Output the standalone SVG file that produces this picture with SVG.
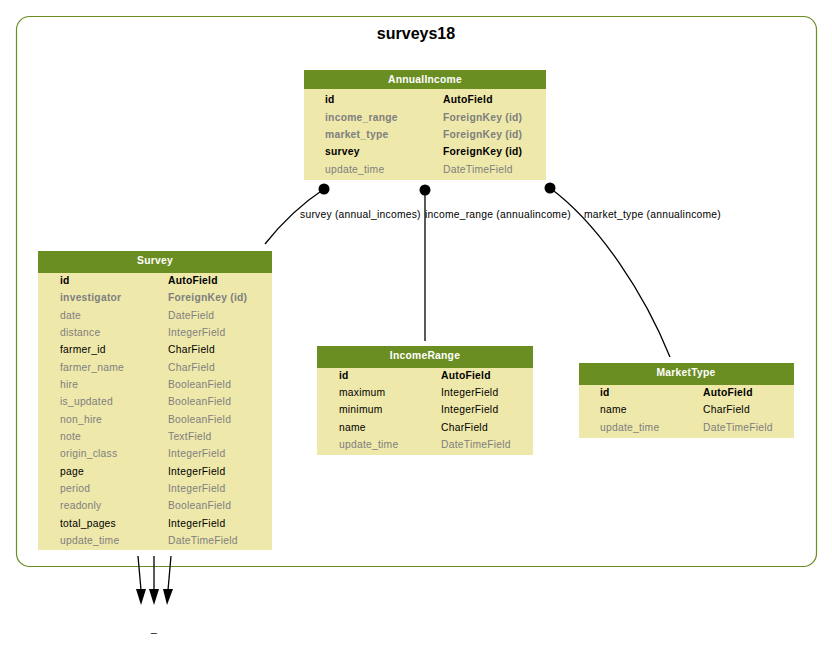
<svg xmlns="http://www.w3.org/2000/svg" width="832" height="659" viewBox="0 0 832 659">
<defs>
<style>
text{font-family:"Liberation Sans",Arial,sans-serif;font-size:10.3px;letter-spacing:0.25px;fill:#000}
.hdr{fill:#6b8e23}
.body{fill:#eee8aa}
.ht{fill:#fff;font-weight:bold;text-anchor:middle}
.b{font-weight:bold}
.g{fill:#7f7f7f}
.edge{fill:none;stroke:#000;stroke-width:1.3}
</style>
</defs>
<rect width="832" height="659" fill="#fff"/>
<g id="cluster">
<rect x="16.5" y="16.5" width="800" height="550" rx="13" fill="none" stroke="#6b8e23" stroke-width="1.2"/>
<text x="416" y="39" text-anchor="middle" style="font-size:16px;font-weight:bold;letter-spacing:0">surveys18</text>
</g>
<g id="edges">
<path class="edge" d="M324,189 C300,205 280,225 265,244"/>
<circle cx="324" cy="189" r="5.5" fill="#000"/>
<text x="300" y="218">survey (annual_incomes)</text>
<path class="edge" d="M425,190 L425,341"/>
<circle cx="425" cy="190" r="5.5" fill="#000"/>
<text x="425" y="218">income_range (annualincome)</text>
<path class="edge" d="M550,188 C600,225 645,295 670,357"/>
<circle cx="550" cy="188" r="5.5" fill="#000"/>
<text x="584" y="218">market_type (annualincome)</text>
<path class="edge" d="M138,556 L141,590"/>
<path d="M136,589 L146,589 L141,605 z"/>
<path class="edge" d="M154,556 L154,590"/>
<path d="M149,589 L159,589 L154,605 z"/>
<path class="edge" d="M171,556 L168,590"/>
<path d="M163,589 L173,589 L167,605 z"/>
<text x="154" y="632" text-anchor="middle">_</text>
</g>
<g id="AnnualIncome">
<rect class="body" x="304" y="70" width="242" height="110"/>
<rect class="hdr" x="304" y="70" width="242" height="19"/>
<text class="ht" x="425" y="83">AnnualIncome</text>
<text class="b" x="325" y="103">id</text><text class="b" x="443" y="103">AutoField</text>
<text class="b g" x="325" y="121">income_range</text><text class="b g" x="443" y="121">ForeignKey (id)</text>
<text class="b g" x="325" y="138">market_type</text><text class="b g" x="443" y="138">ForeignKey (id)</text>
<text class="b" x="325" y="155">survey</text><text class="b" x="443" y="155">ForeignKey (id)</text>
<text class="g" x="325" y="173">update_time</text><text class="g" x="443" y="173">DateTimeField</text>
</g>
<g id="Survey">
<rect class="body" x="38" y="251" width="234" height="299"/>
<rect class="hdr" x="38" y="251" width="234" height="22"/>
<text class="ht" x="155" y="264">Survey</text>
<text class="b" x="60" y="284">id</text><text class="b" x="168" y="284">AutoField</text>
<text class="b g" x="60" y="301">investigator</text><text class="b g" x="168" y="301">ForeignKey (id)</text>
<text class="g" x="60" y="319">date</text><text class="g" x="168" y="319">DateField</text>
<text class="g" x="60" y="336">distance</text><text class="g" x="168" y="336">IntegerField</text>
<text x="60" y="353">farmer_id</text><text x="168" y="353">CharField</text>
<text class="g" x="60" y="371">farmer_name</text><text class="g" x="168" y="371">CharField</text>
<text class="g" x="60" y="388">hire</text><text class="g" x="168" y="388">BooleanField</text>
<text class="g" x="60" y="405">is_updated</text><text class="g" x="168" y="405">BooleanField</text>
<text class="g" x="60" y="423">non_hire</text><text class="g" x="168" y="423">BooleanField</text>
<text class="g" x="60" y="440">note</text><text class="g" x="168" y="440">TextField</text>
<text class="g" x="60" y="457">origin_class</text><text class="g" x="168" y="457">IntegerField</text>
<text x="60" y="475">page</text><text x="168" y="475">IntegerField</text>
<text class="g" x="60" y="492">period</text><text class="g" x="168" y="492">IntegerField</text>
<text class="g" x="60" y="509">readonly</text><text class="g" x="168" y="509">BooleanField</text>
<text x="60" y="527">total_pages</text><text x="168" y="527">IntegerField</text>
<text class="g" x="60" y="544">update_time</text><text class="g" x="168" y="544">DateTimeField</text>
</g>
<g id="IncomeRange">
<rect class="body" x="317" y="346" width="216" height="109"/>
<rect class="hdr" x="317" y="346" width="216" height="22"/>
<text class="ht" x="425" y="359">IncomeRange</text>
<text class="b" x="339" y="379">id</text><text class="b" x="441" y="379">AutoField</text>
<text x="339" y="396">maximum</text><text x="441" y="396">IntegerField</text>
<text x="339" y="413">minimum</text><text x="441" y="413">IntegerField</text>
<text x="339" y="431">name</text><text x="441" y="431">CharField</text>
<text class="g" x="339" y="448">update_time</text><text class="g" x="441" y="448">DateTimeField</text>
</g>
<g id="MarketType">
<rect class="body" x="579" y="363" width="215" height="75"/>
<rect class="hdr" x="579" y="363" width="215" height="22"/>
<text class="ht" x="686" y="376">MarketType</text>
<text class="b" x="600" y="396">id</text><text class="b" x="703" y="396">AutoField</text>
<text x="600" y="413">name</text><text x="703" y="413">CharField</text>
<text class="g" x="600" y="431">update_time</text><text class="g" x="703" y="431">DateTimeField</text>
</g>
</svg>
